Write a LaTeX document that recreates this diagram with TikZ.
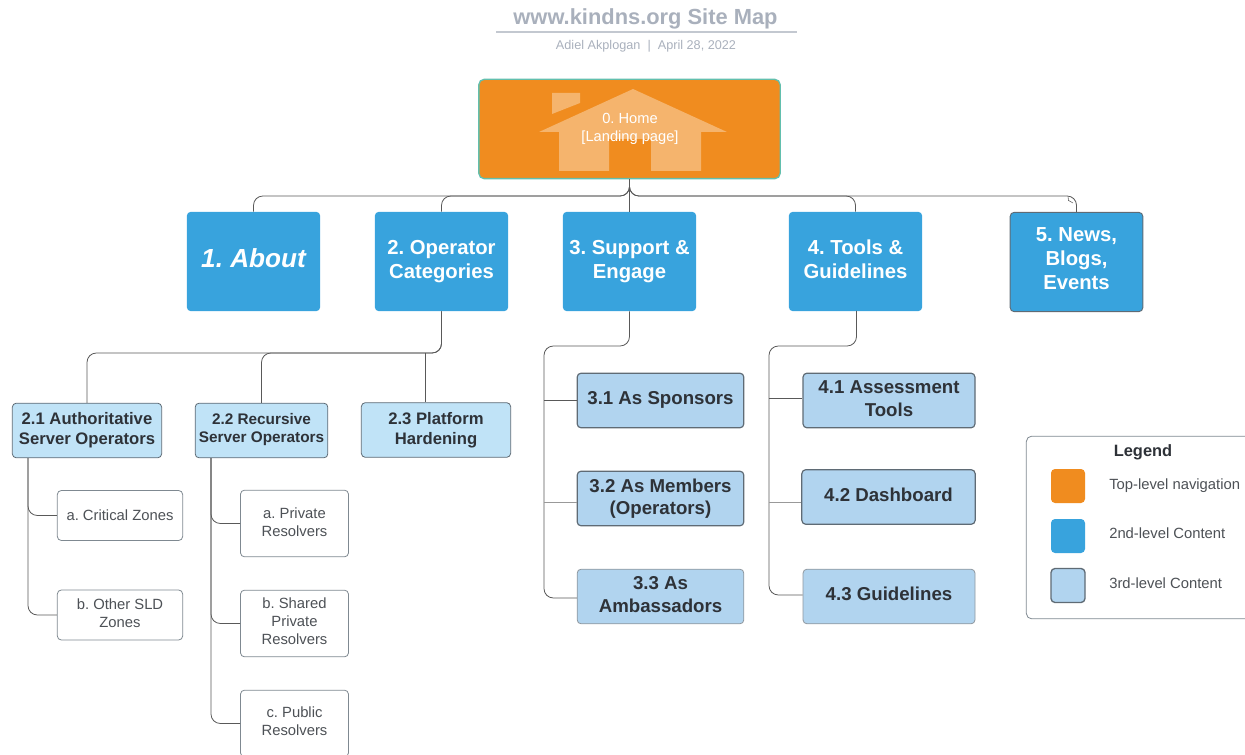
\documentclass[tikz,border=0pt]{standalone}
\usepackage{fontspec}
\setmainfont{Liberation Sans}
\frenchspacing
\definecolor{homeorange}{HTML}{F08C1F}
\definecolor{homeedge}{HTML}{62BFAE}
\definecolor{houseshade}{HTML}{F5B46D}
\definecolor{levelblue}{HTML}{38A3DD}
\definecolor{opsblue}{HTML}{C0E3F7}
\definecolor{paleblue}{HTML}{B1D4EF}
\definecolor{edgegrey}{HTML}{5F6B75}
\definecolor{titlegrey}{HTML}{A9B0BC}
\definecolor{textdark}{HTML}{2E3238}
\begin{document}
\begin{tikzpicture}[x=0.75pt,y=0.75pt]
\tikzstyle{every node}+=[inner sep=0pt,align=center]
\tikzstyle{struts}=[execute at begin node=\strut,execute at end node=\strut]
\tikzstyle{level2}=[struts,rounded corners=3pt,fill=levelblue,text=white,minimum width=100pt,minimum height=74.5pt,font=\fontsize{15.2}{18}\selectfont\bfseries]
\tikzstyle{level3}=[struts,rounded corners=3pt,draw=edgegrey,line width=0.9pt,fill=paleblue,text=textdark,minimum height=41pt,font=\fontsize{14}{16.8}\selectfont\bfseries]
\tikzstyle{ops}=[struts,rounded corners=3pt,draw=edgegrey,line width=0.6pt,fill=opsblue,text=textdark,minimum height=41pt,font=\fontsize{12.5}{15}\selectfont\bfseries]
\tikzstyle{leaf}=[struts,rounded corners=3pt,draw=edgegrey!80,line width=0.6pt,fill=white,text=textdark!85,font=\fontsize{11.1}{13.5}\selectfont]
\tikzstyle{swatch}=[rounded corners=3pt,minimum width=25.5pt,minimum height=25.5pt]
\tikzstyle{legendtext}=[anchor=west,text=textdark!85,font=\fontsize{11.1}{13}\selectfont]
\tikzstyle{conn}=[draw=black!65,line width=0.6pt,rounded corners=7pt]
\useasboundingbox (0,0) rectangle (1245,-755);
\node (title) at (645.5,-19) [struts,text=titlegrey,font=\fontsize{16.4}{20}\selectfont\bfseries] {www.kindns.org Site Map};
\coordinate (ruleleft) at (496,-32);
\coordinate (ruleright) at (797,-32);
\draw [titlegrey!70,line width=1.5pt] (ruleleft) -- (ruleright);
\node (byline) at (646,-47) [struts,text=titlegrey,font=\fontsize{9.5}{11}\selectfont] {Adiel Akplogan\ \ |\ \ April 28, 2022};
\node (home) at (629.5,-129) [rounded corners=4pt,draw=homeedge,line width=1pt,fill=homeorange,minimum width=226pt,minimum height=74.5pt] {};
\fill [houseshade] (633,-89) -- (727,-132) -- (701,-132) -- (701,-171) -- (651,-171) -- (651,-139) -- (609,-139) -- (609,-171) -- (559,-171) -- (559,-132) -- (539,-132) -- cycle;
\fill [houseshade] (552,-93) -- (580,-93) -- (580,-103) -- (552,-114) -- cycle;
\node (hometext) at (630,-130) [struts,text=white,font=\fontsize{11}{13.5}\selectfont] {0. Home\\{[Landing page]}};
\node (about) at (253.5,-261.5) [level2,font=\fontsize{19.6}{24}\selectfont\bfseries\itshape] {1. About};
\node (oper) at (441.5,-261.5) [level2,text depth=3.2pt] {2. Operator\\Categories};
\node (support) at (629.5,-261.5) [level2,text depth=3.2pt] {3. Support \&\\Engage};
\node (tools) at (855.5,-261.5) [level2,text depth=3.2pt] {4. Tools \&\\Guidelines};
\node (news) at (1076.5,-262) [level2,text depth=4.8pt,draw=edgegrey,line width=0.7pt,minimum width=99.5pt,minimum height=74.5pt] {5. News,\\Blogs,\\Events};
\node (auth) at (87,-430.5) [ops,text depth=3pt,minimum width=112pt] {2.1 Authoritative\\Server Operators};
\node (recur) at (261.5,-430.5) [ops,minimum width=99.5pt,font=\fontsize{11.5}{13.5}\selectfont\bfseries] {2.2 Recursive\\Server Operators};
\node (plat) at (436,-430) [ops,text depth=3pt,minimum width=112pt] {2.3 Platform\\Hardening};
\node (crit) at (120,-515.5) [leaf,text depth=2.5pt,minimum width=94pt,minimum height=37.5pt] {a. Critical Zones};
\node (sld) at (120,-615) [leaf,text depth=2.5pt,minimum width=94pt,minimum height=37.5pt] {b. Other SLD\\Zones};
\node (priv) at (294.5,-523.5) [leaf,text depth=2.5pt,minimum width=81pt,minimum height=50pt] {a. Private\\Resolvers};
\node (shared) at (294.5,-623.5) [leaf,minimum width=81pt,minimum height=50pt] {b. Shared\\Private\\Resolvers};
\node (public) at (294.5,-723.5) [leaf,minimum width=81pt,minimum height=50pt] {c. Public\\Resolvers};
\node (spons) at (660.5,-400.5) [level3,minimum width=125pt] {3.1 As Sponsors};
\node (memb) at (660.5,-498.5) [level3,text depth=3pt,minimum width=125pt] {3.2 As Members\\(Operators)};
\node (amb) at (660.5,-596.5) [level3,text depth=3pt,draw=edgegrey!70,line width=0.6pt,minimum width=125pt] {3.3 As\\Ambassadors};
\node (assess) at (889,-400.5) [level3,text depth=3pt,minimum width=129pt] {4.1 Assessment\\Tools};
\node (dash) at (888.5,-497) [level3,minimum width=130pt] {4.2 Dashboard};
\node (guide) at (889,-596.5) [level3,draw=edgegrey!70,line width=0.6pt,minimum width=129pt] {4.3 Guidelines};
\node (legend) at (1143,-527.5) [rounded corners=4pt,draw=edgegrey!80,line width=0.6pt,fill=white,minimum width=175pt,minimum height=137pt] {};
\node (legendhead) at (1143,-453) [struts,text=textdark,font=\fontsize{12.3}{14}\selectfont\bfseries] {Legend};
\node (swtop) at (1068,-486) [swatch,fill=homeorange] {};
\node (swmid) at (1068,-536) [swatch,fill=levelblue] {};
\node (swlow) at (1068,-585.5) [swatch,draw=edgegrey,line width=1pt,fill=paleblue] {};
\node (lbtop) at (1109,-485.5) [legendtext] {Top-level navigation};
\node (lbmid) at (1109,-533) [legendtext] {2nd-level Content};
\node (lblow) at (1109,-583) [legendtext] {3rd-level Content};
\coordinate (topbus) at (0,-196);
\coordinate (opbus) at (0,-353);
\coordinate (subbus) at (0,-346);
\coordinate (splitsup) at (544,0);
\coordinate (splittool) at (769,0);
\coordinate (splitauth) at (28,0);
\coordinate (splitrec) at (211,0);
\coordinate (platjoin) at (425,0);
\coordinate (toolsdrop) at (856.5,-311);
\coordinate (rowmid) at (0,-502);
\coordinate (rowassess) at (0,-398.5);
\coordinate (rowamb) at (0,-598);
\coordinate (rowguide) at (0,-595);
\draw [conn] (home.south) -- (home.south |- topbus) -- (about.north |- topbus) -- (about.north);
\draw [conn] (home.south) -- (home.south |- topbus) -- (oper.north |- topbus) -- (oper.north);
\draw [conn] (home.south) -- (support.north);
\draw [conn] (home.south) -- (home.south |- topbus) -- (tools.north |- topbus) -- (tools.north);
\draw [conn] (home.south) -- (home.south |- topbus) -- (news.north |- topbus) -- (news.north);
\draw [conn,sharp corners,line width=0.4pt] (1068,-196.5) -- (1068.5,-200.5) -- (1073,-203);
\draw [conn] (oper.south) -- (oper.south |- opbus) -- (auth.north |- opbus) -- (auth.north);
\draw [conn] (oper.south) -- (oper.south |- opbus) -- (recur.north |- opbus) -- (recur.north);
\draw [conn] (platjoin |- opbus) -- (platjoin |- plat.north);
\draw [conn] (support.south) -- (support.south |- subbus) -- (splitsup |- subbus) -- (splitsup |- rowamb) -- (amb.west |- rowamb);
\draw [conn] (splitsup |- spons.west) -- (spons.west);
\draw [conn,black!40] (splitsup |- rowmid) -- (memb.west |- rowmid);
\draw [conn] (toolsdrop) -- (toolsdrop |- subbus) -- (splittool |- subbus) -- (splittool |- rowguide) -- (guide.west |- rowguide);
\draw [conn] (splittool |- rowassess) -- (assess.west |- rowassess);
\draw [conn,black!40] (splittool |- rowmid) -- (dash.west |- rowmid);
\draw [conn] (splitauth |- auth.south) -- (splitauth |- crit.west) -- (crit.west);
\draw [conn] (splitauth |- auth.south) -- (splitauth |- sld.west) -- (sld.west);
\draw [conn] (splitrec |- recur.south) -- (splitrec |- priv.west) -- (priv.west);
\draw [conn] (splitrec |- recur.south) -- (splitrec |- shared.west) -- (shared.west);
\draw [conn] (splitrec |- recur.south) -- (splitrec |- public.west) -- (public.west);
\end{tikzpicture}
\end{document}
